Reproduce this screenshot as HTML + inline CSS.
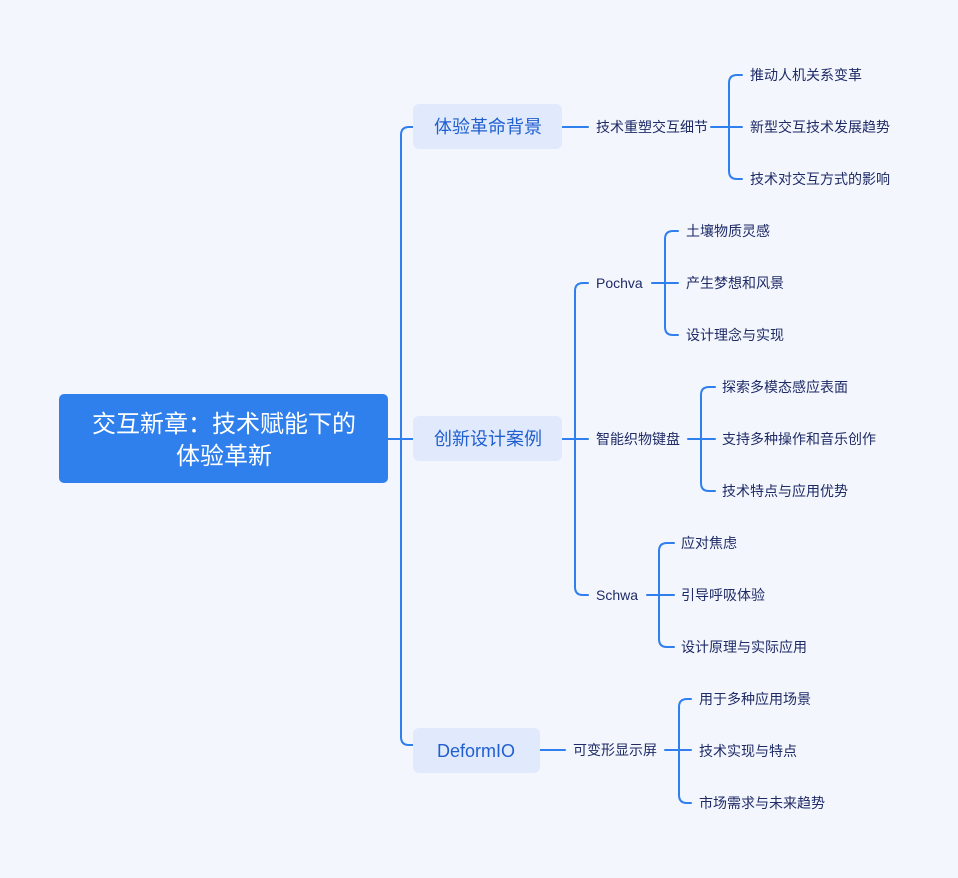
<!DOCTYPE html>
<html><head><meta charset="utf-8"><style>
html,body{margin:0;padding:0;background:#f4f6fd;}
svg{display:block;}
text{font-family:"Liberation Sans","Noto Sans CJK SC",sans-serif;}
.l{fill:#1e2b66;font-size:14px;}
.b{fill:#1f5fcf;font-size:18px;}
</style></head><body>
<svg width="958" height="878" viewBox="0 0 958 878" xmlns="http://www.w3.org/2000/svg">
<rect width="958" height="878" fill="#f4f6fd"/>
<g fill="none" stroke="#2f7fee" stroke-width="2" stroke-linecap="round">
<path d="M388 439 H413"/>
<path d="M413 127 H409 Q401 127 401 135 V737 Q401 745 409 745 H413"/>
<path d="M562 127 H588"/>
<path d="M562 439 H588"/>
<path d="M540 750 H565"/>
<path d="M711 127 H742 M742 75 H737 Q729 75 729 83 V171 Q729 179 737 179 H742"/>
<path d="M588 283 H583 Q575 283 575 291 V587 Q575 595 583 595 H588"/>
<path d="M652 283 H678 M678 231 H673 Q665 231 665 239 V327 Q665 335 673 335 H678"/>
<path d="M688 439 H715 M715 387 H709 Q701 387 701 395 V483 Q701 491 709 491 H715"/>
<path d="M647 595 H674 M674 543 H667 Q659 543 659 551 V639 Q659 647 667 647 H674"/>
<path d="M665 750 H691 M691 699 H687 Q679 699 679 707 V795 Q679 803 687 803 H691"/>
</g>
<rect x="59" y="394" width="329" height="89" rx="5" fill="#2f80ed"/>
<text x="224" y="432" text-anchor="middle" fill="#fff" font-size="24">交互新章：技术赋能下的</text>
<text x="224" y="464" text-anchor="middle" fill="#fff" font-size="24">体验革新</text>
<rect x="413" y="104" width="149" height="45" rx="6" fill="#e1eafc"/>
<text class="b" x="488" y="133" text-anchor="middle">体验革命背景</text>
<rect x="413" y="416" width="149" height="45" rx="6" fill="#e1eafc"/>
<text class="b" x="488" y="445" text-anchor="middle">创新设计案例</text>
<rect x="413" y="728" width="127" height="45" rx="6" fill="#e1eafc"/>
<text class="b" x="476" y="757" text-anchor="middle">DeformIO</text>
<text class="l" x="596" y="132">技术重塑交互细节</text>
<text class="l" x="596" y="288">Pochva</text>
<text class="l" x="596" y="444">智能织物键盘</text>
<text class="l" x="596" y="600">Schwa</text>
<text class="l" x="573" y="755">可变形显示屏</text>
<text class="l" x="750" y="80">推动人机关系变革</text>
<text class="l" x="750" y="132">新型交互技术发展趋势</text>
<text class="l" x="750" y="184">技术对交互方式的影响</text>
<text class="l" x="686" y="236">土壤物质灵感</text>
<text class="l" x="686" y="288">产生梦想和风景</text>
<text class="l" x="686" y="340">设计理念与实现</text>
<text class="l" x="722" y="392">探索多模态感应表面</text>
<text class="l" x="722" y="444">支持多种操作和音乐创作</text>
<text class="l" x="722" y="496">技术特点与应用优势</text>
<text class="l" x="681" y="548">应对焦虑</text>
<text class="l" x="681" y="600">引导呼吸体验</text>
<text class="l" x="681" y="652">设计原理与实际应用</text>
<text class="l" x="699" y="704">用于多种应用场景</text>
<text class="l" x="699" y="756">技术实现与特点</text>
<text class="l" x="699" y="808">市场需求与未来趋势</text>
</svg>
</body></html>
